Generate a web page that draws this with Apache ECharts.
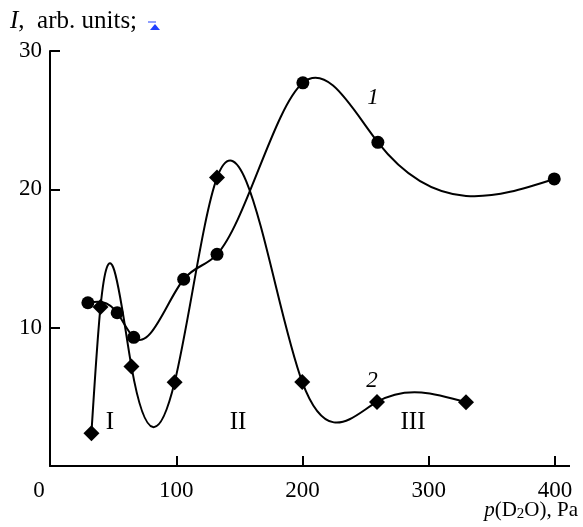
<!DOCTYPE html>
<html>
<head>
<meta charset="utf-8">
<script src="https://cdn.jsdelivr.net/npm/echarts@6/dist/echarts.min.js"></script>
<style>html,body{margin:0;padding:0;background:#fff}#c{width:583px;height:527px}</style>
</head>
<body>
<div id="c"></div>
<script>
var xTicks = [0, 100, 200, 300, 400];
var yTicks = [10, 20, 30];
var s1x = [30, 53.2, 66.3, 105.9, 132.3, 200.3, 259.7, 399.4];
var s1y = [11.8, 11.08, 9.3, 13.5, 15.3, 27.7, 23.4, 20.75];
var s2x = [32.8, 40, 64.5, 98.7, 132.3, 199.8, 259, 329.5];
var s2y = [2.36, 11.5, 7.2, 6.05, 20.85, 6.07, 4.63, 4.6];

function pairs(xs, ys) { return xs.map(function (x, i) { return [x, ys[i]]; }); }

// Natural cubic spline through pixel points, returned as SVG path data (Bezier segments)
function splinePath(pts) {
  var n = pts.length, i;
  var h = [], M = new Array(n).fill(0);
  for (i = 0; i < n - 1; i++) h.push(pts[i + 1][0] - pts[i][0]);
  if (n > 2) {
    var a = [], b = [], c = [], d = [];
    for (i = 1; i < n - 1; i++) {
      a.push(h[i - 1]); b.push(2 * (h[i - 1] + h[i])); c.push(h[i]);
      d.push(6 * ((pts[i + 1][1] - pts[i][1]) / h[i] - (pts[i][1] - pts[i - 1][1]) / h[i - 1]));
    }
    var m = b.length;
    for (i = 1; i < m; i++) {
      var w = a[i] / b[i - 1];
      b[i] -= w * c[i - 1]; d[i] -= w * d[i - 1];
    }
    var sol = new Array(m);
    sol[m - 1] = d[m - 1] / b[m - 1];
    for (i = m - 2; i >= 0; i--) sol[i] = (d[i] - c[i] * sol[i + 1]) / b[i];
    for (i = 0; i < m; i++) M[i + 1] = sol[i];
  }
  var slope = [];
  for (i = 0; i < n - 1; i++) slope.push((pts[i + 1][1] - pts[i][1]) / h[i] - h[i] * (2 * M[i] + M[i + 1]) / 6);
  slope.push((pts[n - 1][1] - pts[n - 2][1]) / h[n - 2] + h[n - 2] * (M[n - 2] + 2 * M[n - 1]) / 6);
  var p = 'M' + pts[0][0] + ' ' + pts[0][1];
  for (i = 0; i < n - 1; i++) {
    var t = h[i] / 3;
    p += ' C' + (pts[i][0] + t) + ' ' + (pts[i][1] + slope[i] * t) + ' ' +
      (pts[i + 1][0] - t) + ' ' + (pts[i + 1][1] - slope[i + 1] * t) + ' ' +
      pts[i + 1][0] + ' ' + pts[i + 1][1];
  }
  return p;
}

function curveSeries(xs, ys) {
  return {
    type: 'custom', data: pairs(xs, ys), z: 1, silent: true,
    renderItem: function (params, api) {
      if (params.dataIndexInside !== 0) return null;
      var pts = xs.map(function (x, i) { return api.coord([x, ys[i]]); });
      return {type: 'path', shape: {pathData: splinePath(pts)},
        style: {fill: null, stroke: '#000', lineWidth: 2}};
    }
  };
}

var FONT = '"Liberation Serif", "DejaVu Serif", serif';
var chart = echarts.init(document.getElementById('c'), null, {renderer: 'canvas'});
var option = {
  animation: false,
  backgroundColor: '#fff',
  grid: {left: 50, right: 28, top: 51, bottom: 61, containLabel: false},
  xAxis: {
    type: 'value', min: xTicks[0], max: xTicks[xTicks.length - 1], interval: 100,
    axisLine: {onZero: false, lineStyle: {color: '#000', width: 2}},
    axisTick: {inside: true, length: 10, lineStyle: {color: '#000', width: 2}},
    splitLine: {show: false},
    axisLabel: {
      color: '#000', fontFamily: FONT, fontSize: 23, margin: 13,
      formatter: function (v) { return v === 0 ? '{z|0}' : String(v); },
      rich: {z: {fontFamily: FONT, fontSize: 23, color: '#000', padding: [0, 22, 0, 0]}}
    }
  },
  yAxis: {
    type: 'value', min: 0, max: yTicks[yTicks.length - 1], interval: 10,
    axisLine: {onZero: false, lineStyle: {color: '#000', width: 2}},
    axisTick: {inside: true, length: 10, lineStyle: {color: '#000', width: 2},
      interval: function (i, v) { return v !== 0; }},
    splitLine: {show: false},
    axisLabel: {
      color: '#000', fontFamily: FONT, fontSize: 23, margin: 8,
      formatter: function (v) { return yTicks.indexOf(v) >= 0 ? String(v) : ''; }
    }
  },
  series: [
    curveSeries(s1x, s1y),
    curveSeries(s2x, s2y),
    {
      type: 'scatter', data: pairs(s1x, s1y), z: 3,
      symbol: 'circle', symbolSize: 13, itemStyle: {color: '#000', opacity: 1}
    },
    {
      type: 'scatter', data: pairs(s2x, s2y), z: 3,
      symbol: 'diamond', symbolSize: [16, 16], itemStyle: {color: '#000', opacity: 1}
    }
  ],
  graphic: [
    {type: 'text', x: 10, y: 21, style: {
      text: '{i|I},  arb. units;', fill: '#000', font: '25px ' + FONT, verticalAlign: 'middle',
      rich: {i: {fontStyle: 'italic', fontFamily: FONT, fontSize: 25, fill: '#000'}}
    }},
    {type: 'polygon', shape: {points: [[150, 30], [155, 24], [160, 30]]}, style: {fill: '#1f3fff'}},
    {type: 'line', shape: {x1: 148, y1: 22, x2: 156, y2: 22}, style: {stroke: '#1f3fff', lineWidth: 1}},
    {type: 'text', right: 5, top: 500, style: {
      text: '{i|p}(D{s|2}O), Pa', fill: '#000', font: '21px ' + FONT,
      rich: {
        i: {fontStyle: 'italic', fontFamily: FONT, fontSize: 21, fill: '#000'},
        s: {fontFamily: FONT, fontSize: 15, fill: '#000', verticalAlign: 'bottom', padding: [8, 0, 0, 0]}
      }
    }},
    {type: 'text', x: 373, y: 98, style: {text: '1', fill: '#000', font: 'italic 23px ' + FONT, align: 'center', verticalAlign: 'middle'}},
    {type: 'text', x: 372, y: 381, style: {text: '2', fill: '#000', font: 'italic 23px ' + FONT, align: 'center', verticalAlign: 'middle'}},
    {type: 'text', x: 110, y: 422, style: {text: 'I', fill: '#000', font: '25px ' + FONT, align: 'center', verticalAlign: 'middle'}},
    {type: 'text', x: 238, y: 422, style: {text: 'II', fill: '#000', font: '25px ' + FONT, align: 'center', verticalAlign: 'middle'}},
    {type: 'text', x: 413, y: 422, style: {text: 'III', fill: '#000', font: '25px ' + FONT, align: 'center', verticalAlign: 'middle'}}
  ]
};
chart.setOption(option);
// extend x axis line slightly beyond 400, as in the reference
var o = chart.convertToPixel({gridIndex: 0}, [xTicks[xTicks.length - 1], 0]);
chart.setOption({graphic: option.graphic.concat([
  {type: 'line', shape: {x1: o[0], y1: o[1], x2: o[0] + 15, y2: o[1]}, style: {stroke: '#000', lineWidth: 2}}
])});
</script>
</body>
</html>
